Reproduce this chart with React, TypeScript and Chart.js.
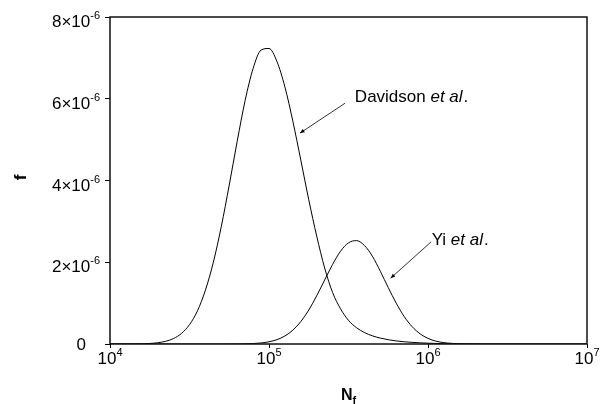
import React, { useEffect, useRef } from "react";
import { Chart, registerables } from "chart.js";

Chart.register(...registerables);

// log10(N) sample positions
const logN: number[] = [
  4.0, 4.05, 4.1, 4.15, 4.2, 4.25, 4.3, 4.35, 4.4, 4.45, 4.5, 4.55, 4.6, 4.65, 4.7, 4.75,
  4.8, 4.85, 4.9, 4.95, 5.0, 5.05, 5.1, 5.15, 5.2, 5.25, 5.3, 5.35, 5.4, 5.45, 5.5, 5.55,
  5.6, 5.65, 5.7, 5.75, 5.8, 5.85, 5.9, 5.95, 6.0, 6.05, 6.1, 6.15, 6.2, 6.25, 6.3, 6.35,
  6.4, 7.0,
];

// f values (×1e-6)
const davidson: number[] = [
  0, 0.0003, 0.0007, 0.002, 0.0053, 0.013, 0.03, 0.066, 0.135, 0.26, 0.473, 0.81, 1.316, 2.0, 2.875, 3.89,
  4.96, 5.96, 6.74, 7.19, 7.23, 6.91, 6.29, 5.45, 4.5, 3.53, 2.64, 1.86, 1.26, 0.86, 0.58, 0.4,
  0.28, 0.2, 0.145, 0.105, 0.075, 0.055, 0.04, 0.028, 0.02, 0.013, 0.008, 0.005, 0.003, 0.002, 0.001, 0,
  0, 0,
];

const yi: number[] = [
  0, 0, 0, 0, 0, 0, 0, 0, 0, 0, 0, 0, 0, 0, 0, 0.0007,
  0.002, 0.0047, 0.011, 0.0255, 0.054, 0.106, 0.196, 0.339, 0.548, 0.83, 1.18, 1.566, 1.948, 2.27, 2.475, 2.53,
  2.41, 2.15, 1.78, 1.38, 1.0, 0.674, 0.425, 0.25, 0.137, 0.07, 0.033, 0.015, 0.006, 0.0025, 0.001, 0,
  0, 0,
];

const xTickExps: number[] = [4, 5, 6, 7];
const yTickMantissas: number[] = [0, 2, 4, 6, 8];

const FONT = '"Liberation Sans", Arial, sans-serif';

function drawSup(
  ctx: CanvasRenderingContext2D,
  base: string,
  sup: string,
  x: number,
  y: number,
  align: "right" | "center",
  baseSize: number,
  supSize: number
) {
  ctx.font = `${baseSize}px ${FONT}`;
  const wb = ctx.measureText(base).width;
  ctx.font = `${supSize}px ${FONT}`;
  const ws = ctx.measureText(sup).width;
  const total = wb + ws;
  const x0 = align === "right" ? x - total : x - total / 2;
  ctx.textAlign = "left";
  ctx.textBaseline = "alphabetic";
  ctx.font = `${baseSize}px ${FONT}`;
  ctx.fillText(base, x0, y);
  ctx.font = `${supSize}px ${FONT}`;
  ctx.fillText(sup, x0 + wb, y - 8);
}

function arrow(ctx: CanvasRenderingContext2D, x1: number, y1: number, x2: number, y2: number) {
  ctx.beginPath();
  ctx.moveTo(x1, y1);
  ctx.lineTo(x2, y2);
  ctx.strokeStyle = "#000";
  ctx.lineWidth = 0.8;
  ctx.stroke();
  const ang = Math.atan2(y2 - y1, x2 - x1);
  const L = 5;
  const w = 0.4;
  ctx.beginPath();
  ctx.moveTo(x2, y2);
  ctx.lineTo(x2 - L * Math.cos(ang - w), y2 - L * Math.sin(ang - w));
  ctx.lineTo(x2 - L * Math.cos(ang + w), y2 - L * Math.sin(ang + w));
  ctx.closePath();
  ctx.fillStyle = "#000";
  ctx.fill();
}

const decorPlugin = {
  id: "decor",
  afterDraw(chart: any) {
    const ctx: CanvasRenderingContext2D = chart.ctx;
    const xs = chart.scales.x;
    const ys = chart.scales.y;
    const a = chart.chartArea;
    ctx.save();
    // box
    ctx.strokeStyle = "#111";
    ctx.lineWidth = 1.5;
    ctx.strokeRect(a.left, a.top, a.right - a.left, a.bottom - a.top);

    ctx.fillStyle = "#000";
    // y tick labels
    for (const m of yTickMantissas) {
      const py = ys.getPixelForValue(m * 1e-6);
      if (m === 0) {
        ctx.font = `17px ${FONT}`;
        ctx.textAlign = "right";
        ctx.textBaseline = "alphabetic";
        ctx.fillText("0", a.left - 24, py + 6);
      } else {
        drawSup(ctx, `${m}×10`, "-6", a.left - 10, py + 10, "right", 17, 11);
      }
    }
    // x tick labels
    for (const e of xTickExps) {
      const px = xs.getPixelForValue(Math.pow(10, e));
      drawSup(ctx, "10", String(e), px, a.bottom + 20, "center", 17, 11);
    }
    // x title N_f
    ctx.font = `bold 16px ${FONT}`;
    const wN = ctx.measureText("N").width;
    ctx.font = `bold 11px ${FONT}`;
    const wf = ctx.measureText("f").width;
    const cx = (a.left + a.right) / 2;
    const nx = cx - (wN + wf) / 2;
    ctx.textAlign = "left";
    ctx.textBaseline = "alphabetic";
    ctx.font = `bold 16px ${FONT}`;
    ctx.fillText("N", nx, 400);
    ctx.font = `bold 11px ${FONT}`;
    ctx.fillText("f", nx + wN, 404);
    // y title f
    ctx.save();
    ctx.translate(21, (a.top + a.bottom) / 2 - 3);
    ctx.rotate(-Math.PI / 2);
    ctx.font = `bold 17px ${FONT}`;
    ctx.textAlign = "center";
    ctx.textBaseline = "middle";
    ctx.fillText("f", 0, 0);
    ctx.restore();

    // annotations
    const drawLabel = (plain: string, ital: string, tail: string, x: number, y: number) => {
      ctx.textAlign = "left";
      ctx.textBaseline = "alphabetic";
      ctx.font = `17px ${FONT}`;
      ctx.fillText(plain, x, y);
      let w = ctx.measureText(plain).width;
      ctx.font = `italic 17px ${FONT}`;
      ctx.fillText(ital, x + w, y);
      w += ctx.measureText(ital).width;
      ctx.font = `17px ${FONT}`;
      ctx.fillText(tail, x + w + 1, y);
    };
    const dX = xs.getPixelForValue(Math.pow(10, 5.54));
    const dY = ys.getPixelForValue(5.92e-6);
    drawLabel("Davidson ", "et al", ".", dX, dY);
    arrow(
      ctx,
      xs.getPixelForValue(Math.pow(10, 5.478)),
      ys.getPixelForValue(5.89e-6),
      xs.getPixelForValue(Math.pow(10, 5.195)),
      ys.getPixelForValue(5.16e-6)
    );
    const yX = xs.getPixelForValue(Math.pow(10, 6.023));
    const yY = ys.getPixelForValue(2.42e-6);
    drawLabel("Yi ", "et al", ".", yX, yY);
    arrow(
      ctx,
      xs.getPixelForValue(Math.pow(10, 6.02)),
      ys.getPixelForValue(2.5e-6),
      xs.getPixelForValue(Math.pow(10, 5.765)),
      ys.getPixelForValue(1.61e-6)
    );
    ctx.restore();
  },
};

export default function App() {
  const ref = useRef<HTMLCanvasElement>(null);
  useEffect(() => {
    document.body.style.margin = "0";
    const canvas = ref.current;
    if (!canvas) return;
    const mk = (vals: number[]) => logN.map((e, i) => ({ x: Math.pow(10, e), y: vals[i] * 1e-6 }));
    const chart = new Chart(canvas, {
      type: "line",
      data: {
        datasets: [
          {
            label: "Davidson et al.",
            data: mk(davidson),
            borderColor: "#000",
            borderWidth: 1,
            pointRadius: 0,
            cubicInterpolationMode: "monotone",
            fill: false,
          },
          {
            label: "Yi et al.",
            data: mk(yi),
            borderColor: "#000",
            borderWidth: 1,
            pointRadius: 0,
            cubicInterpolationMode: "monotone",
            fill: false,
          },
        ],
      },
      options: {
        responsive: false,
        animation: false,
        layout: { padding: { top: 17, right: 23, left: 0, bottom: 0 } },
        plugins: { legend: { display: false }, tooltip: { enabled: false } },
        scales: {
          x: {
            type: "logarithmic",
            min: 1e4,
            max: 1e7,
            afterBuildTicks: (s: any) => {
              s.ticks = xTickExps.map((e) => ({ value: Math.pow(10, e) }));
            },
            afterFit: (s: any) => {
              s.height = 60;
              s.paddingLeft = 0;
              s.paddingRight = 0;
            },
            ticks: { display: false },
            grid: { drawOnChartArea: false, drawTicks: true, tickLength: 4, color: "#000" },
            border: { display: false },
          },
          y: {
            type: "linear",
            min: 0,
            max: 8e-6,
            afterBuildTicks: (s: any) => {
              s.ticks = yTickMantissas.map((m) => ({ value: m * 1e-6 }));
            },
            afterFit: (s: any) => {
              s.width = 110;
              s.paddingTop = 0;
              s.paddingBottom = 0;
            },
            ticks: { display: false },
            grid: { drawOnChartArea: false, drawTicks: true, tickLength: 5, color: "#000" },
            border: { display: false },
          },
        },
      },
      plugins: [decorPlugin],
    } as any);
    return () => chart.destroy();
  }, []);
  return <canvas ref={ref} width={610} height={404} style={{ display: "block" }} />;
}
